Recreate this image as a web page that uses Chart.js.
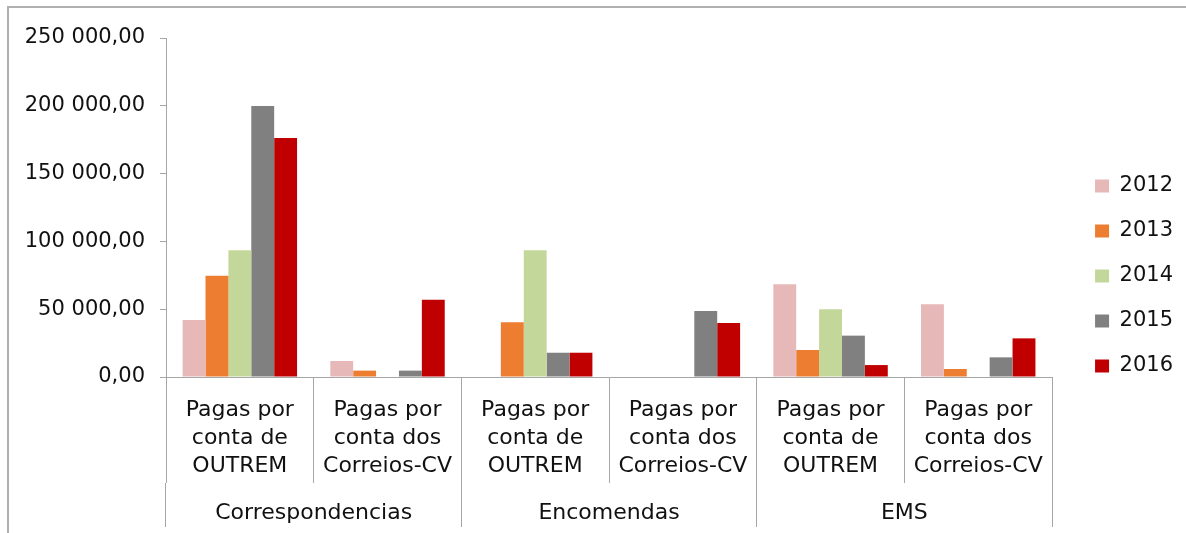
<!DOCTYPE html>
<html>
<head>
<meta charset="utf-8">
<script src="https://cdn.jsdelivr.net/npm/chart.js@4"></script>
<style>
html, body { margin: 0; padding: 0; background: #fff; overflow: hidden; }
#wrap { position: relative; width: 1186px; height: 533px; }
#frame { position: absolute; left: 7px; top: 6px; width: 1200px; height: 560px; border: 2px solid #b0b0b0; box-sizing: border-box; pointer-events: none; }
</style>
</head>
<body>
<div id="wrap">
  <canvas id="grafico" width="1186" height="533"></canvas>
  <div id="frame"></div>
</div>
<script>
// dados
const subcategorias = [
    ['Pagas por', 'conta de', 'OUTREM'],
    ['Pagas por', 'conta dos', 'Correios-CV'],
    ['Pagas por', 'conta de', 'OUTREM'],
    ['Pagas por', 'conta dos', 'Correios-CV'],
    ['Pagas por', 'conta de', 'OUTREM'],
    ['Pagas por', 'conta dos', 'Correios-CV']
]
const grupos = ['Correspondencias', 'Encomendas', 'EMS']
const anos = ['2012', '2013', '2014', '2015', '2016']

const v2012 = [42000, 11800, null, null, 68400, 53600]
const v2013 = [74700, 4700, 40300, null, 19900, 5900]
const v2014 = [93400, null, 93400, null, 49900, null]
const v2015 = [199800, 4700, 17900, 48700, 30500, 14500]
const v2016 = [176200, 57000, 17900, 39800, 8800, 28500]

const yTicks = ['0,00', '50 000,00', '100 000,00', '150 000,00', '200 000,00', '250 000,00']

const cores = ['#e6b9b8', '#ed7d31', '#c4d79b', '#808080', '#c00000']
const valores = [v2012, v2013, v2014, v2015, v2016]

const fonte = 'DejaVu Sans'
const cinza = '#a6a6a6'
const texto = '#111111'

let datasets = []
anos.forEach(function(ano, i) {
    datasets.push({
        label: ano,
        data: valores[i],
        backgroundColor: cores[i],
        borderWidth: 0,
        categoryPercentage: 0.775,
        barPercentage: 1
    })
})

let ctx = document.getElementById('grafico')

let chartGraph = new Chart(ctx, {
    type: 'bar',
    data: {
        labels: subcategorias,
        datasets: datasets
    },
    options: {
        responsive: false,
        animation: false,
        devicePixelRatio: 1,
        layout: {
            padding: { top: 25, right: 3, bottom: 6, left: 0 }
        },
        plugins: {
            legend: {
                position: 'right',
                align: 'center',
                labels: {
                    boxWidth: 14,
                    boxHeight: 13,
                    padding: 24,
                    color: texto,
                    font: { family: fonte, size: 21 }
                }
            },
            tooltip: { enabled: false }
        },
        scales: {
            x: {
                type: 'category',
                offset: true,
                weight: 0,
                afterFit: function(s) { s.height = 106 },
                grid: { offset: true, drawOnChartArea: false, tickLength: 106, color: cinza },
                border: { color: cinza },
                ticks: {
                    padding: -87,
                    autoSkip: false,
                    maxRotation: 0,
                    color: texto,
                    font: { family: fonte, size: 22, lineHeight: 1.28 }
                }
            },
            // segundo nivel: grupos
            x2: {
                type: 'category',
                position: 'bottom',
                labels: grupos,
                offset: true,
                weight: 1,
                afterFit: function(s) { s.height = 44 },
                grid: { offset: true, drawOnChartArea: false, tickLength: 44, color: cinza, tickColor: cinza },
                border: { display: false },
                ticks: {
                    padding: -28,
                    autoSkip: false,
                    maxRotation: 0,
                    color: texto,
                    font: { family: fonte, size: 22, lineHeight: 1.28 }
                }
            },
            y: {
                min: 0,
                max: 250000,
                afterFit: function(s) { s.width = 166; s.paddingTop = 38 },
                grid: { drawOnChartArea: false, tickLength: 6, color: cinza },
                border: { color: cinza },
                ticks: {
                    stepSize: 50000,
                    padding: 15,
                    color: texto,
                    font: { family: fonte, size: 21 },
                    callback: function(v, i) { return yTicks[i] }
                }
            },
            // eixo vazio so para afastar a legenda
            y2: {
                position: 'right',
                grid: { display: false },
                ticks: { display: false },
                border: { display: false },
                afterFit: function(s) { s.width = 19 }
            }
        }
    }
});
</script>
</body>
</html>
